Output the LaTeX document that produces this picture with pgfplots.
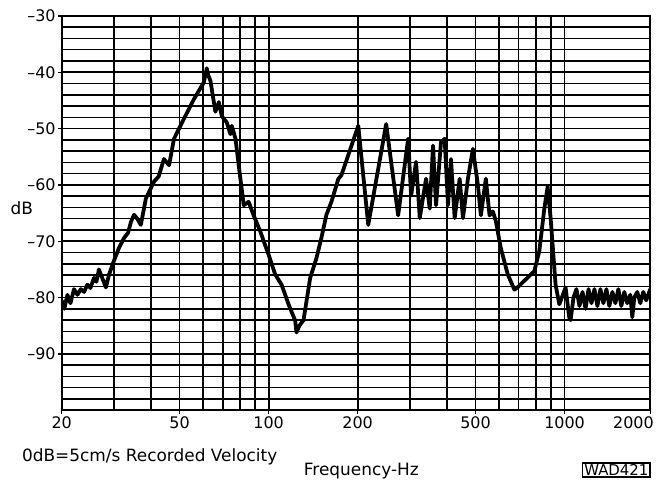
\documentclass[border=0pt]{standalone}
\usepackage{pgfplots}
\pgfplotsset{compat=1.18}
\usepackage{fontspec}
\setmainfont{DejaVu Sans}
\begin{document}
\begin{tikzpicture}[x=1pt,y=1pt]
\path (-62,-70) rectangle (595,412);
\begin{axis}[at={(0,0)}, anchor=south west, scale only axis,
  width=591pt, height=396pt,
  xmode=log, xmin=20, xmax=1948, ymin=-100, ymax=-30,
  xtick={20,50,100,200,500,1000},
  xticklabels={20,50,100,200,500,1000},
  minor xtick={30,40,60,70,80,90,300,400,600,700,800,900},
  ytick={-90,-80,...,-30},
  yticklabels={\textendash90,\textendash80,\textendash70,\textendash60,\textendash50,\textendash40,\textendash30},
  minor ytick={-98,-96,...,-32},
  grid=both,
  major grid style={black, line width=1.8pt},
  minor grid style={black, line width=1.5pt},
  axis line style={black, line width=2pt},
  tick align=outside, major tick length=4pt, minor tick length=0pt,
  tick pos=left,
  tick style={black, line width=1.2pt},
  ticklabel style={font=\fontsize{16}{16}\selectfont},
  yticklabel style={inner xsep=2pt},
  xticklabel style={yshift=1pt},
  extra x ticks={1948}, extra x tick labels={2000},
  extra x tick style={grid=none, xticklabel style={anchor=north east, xshift=7pt}},
]
\addplot[black, line width=3.8pt, line join=round, line cap=round] table {
20.0 -80.5
20.4 -82.0
20.9 -79.5
21.4 -81.0
22.0 -78.5
22.6 -79.5
23.2 -78.5
23.8 -79.0
24.4 -77.7
25.0 -78.3
25.7 -76.5
26.2 -77.2
26.7 -75.0
27.4 -76.5
28.2 -78.2
28.9 -75.9
30.0 -73.5
31.2 -71.2
32.5 -69.4
33.5 -68.5
34.3 -66.5
35.1 -65.3
36.0 -66.0
37.0 -67.1
38.5 -62.4
41.0 -59.4
42.5 -58.5
44.3 -55.4
46.1 -56.5
47.9 -51.8
51.7 -48.3
55.9 -44.8
60.4 -41.8
61.8 -39.3
62.5 -40.5
63.6 -41.5
66.1 -47.0
67.9 -45.3
69.5 -47.8
72.2 -48.9
74.3 -51.0
75.1 -49.5
77.3 -51.8
79.3 -56.6
82.4 -63.6
85.6 -63.0
89.0 -65.4
93.8 -68.3
100 -72.4
105.3 -75.9
110.6 -77.7
116.8 -81.2
123.0 -84.1
124.2 -86.2
127 -85.0
131.2 -84.0
138.2 -76.5
145.1 -73.0
150.8 -69.4
156.8 -65.3
163.0 -63.0
172.1 -58.9
176.1 -58.3
185.9 -54.7
200.9 -49.5
217.1 -67.1
249.6 -49.2
274.0 -65.4
296.1 -51.8
303.0 -61.9
315.0 -55.9
324.2 -65.9
340.4 -58.9
350.3 -64.2
359.4 -53.0
367.9 -63.6
382.4 -52.4
393.5 -51.8
403.8 -63.6
413.3 -55.4
425.3 -65.9
442.2 -58.9
453.6 -65.9
471.5 -58.9
490.1 -53.6
509.5 -60.0
521.5 -65.4
542.0 -58.9
557.9 -65.4
572.3 -64.7
585.8 -66.4
608.9 -71.2
642.9 -75.9
677.1 -78.6
700.0 -78.0
731.6 -77.0
790.7 -75.3
821.9 -71.7
854.4 -64.2
876.7 -60.3
897.4 -65.9
932.5 -77.7
960.0 -81.2
1008 -78.2
1037 -83.5
1048 -84.0
1072 -80.0
1097 -78.5
1123 -81.5
1150 -79.0
1177 -82.0
1205 -78.5
1233 -81.0
1262 -78.5
1291 -81.5
1322 -78.5
1353 -81.0
1385 -78.5
1417 -81.5
1451 -79.0
1485 -81.0
1520 -78.5
1555 -81.5
1592 -79.0
1629 -81.0
1668 -79.5
1694 -83.5
1721 -80.0
1761 -79.0
1803 -81.0
1845 -79.0
1888 -80.5
1948 -78.5
};
\end{axis}
\node[anchor=base west, inner sep=0, font=\fontsize{17}{17}\selectfont] at (-40,-51) {0dB=5cm/s Recorded Velocity};
\node[anchor=base west, inner sep=0, font=\fontsize{17}{17}\selectfont] at (243,-66) {Frequency-Hz};
\node[draw, line width=1.2pt, inner sep=1.5pt, font=\fontsize{15}{15}\selectfont] at (557,-60) {WAD421};
\node[font=\fontsize{17}{17}\selectfont] at (-40,203) {dB};
\end{tikzpicture}
\end{document}
